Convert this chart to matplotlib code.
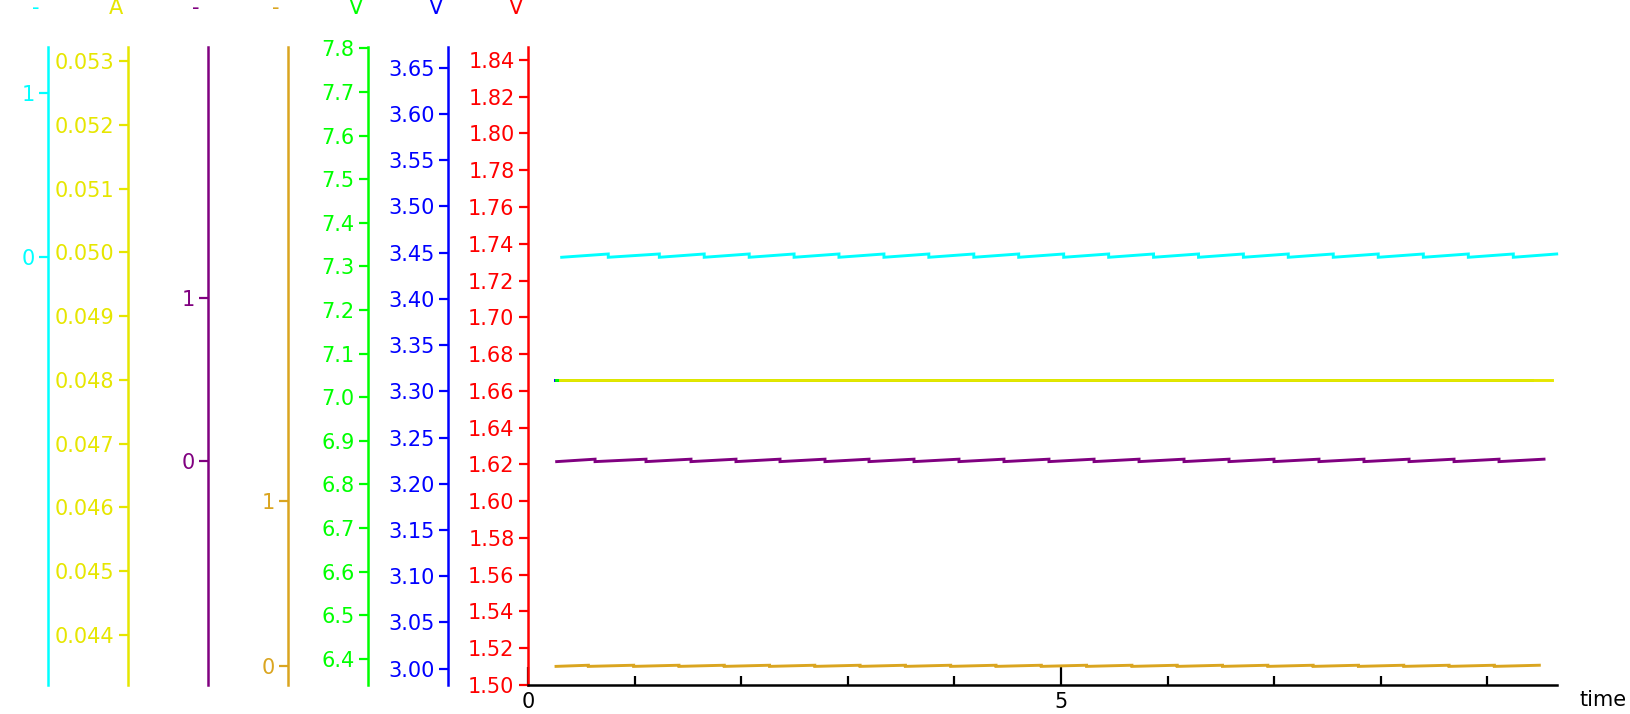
import matplotlib
matplotlib.use("Agg")
import matplotlib.pyplot as plt
from matplotlib.ticker import FixedLocator, FormatStrFormatter, NullFormatter

# ---------------- data ----------------
x_limits = (0.0, 9.65)
x_major_ticks = [0, 5]
x_minor_ticks = [1, 2, 3, 4, 6, 7, 8, 9]
x_label = "time"

# sawtooth series: start, jump times, end, low/high values
cyan_start, cyan_end = 0.316, 9.65
cyan_jumps = [0.753, 1.232, 1.653, 2.075, 2.496, 2.917, 3.339, 3.760, 4.182, 4.603,
              5.025, 5.447, 5.868, 6.290, 6.711, 7.132, 7.554, 7.976, 8.399, 8.821, 9.243]
cyan_low, cyan_high = 0.0, 0.02

purple_start, purple_end = 0.269, 9.531
purple_jumps = [0.629, 1.107, 1.529, 1.951, 2.364, 2.786, 3.199, 3.621, 4.043, 4.465,
                4.887, 5.310, 5.732, 6.154, 6.576, 6.998, 7.420, 7.842, 8.265, 8.687, 9.109]
purple_low, purple_high = -0.004, 0.011

orange_start, orange_end = 0.263, 9.487
orange_jumps = [0.566, 0.991, 1.416, 1.841, 2.266, 2.690, 3.115, 3.540, 3.965, 4.390,
                4.815, 5.240, 5.665, 6.090, 6.515, 6.940, 7.365, 7.790, 8.215, 8.640, 9.065]
orange_low, orange_high = -0.002, 0.005

# flat series
red_t = [0.27, 9.31]
red_v = [1.6658, 1.6658]
blue_t = [0.255, 9.30]
blue_v = [3.312, 3.312]
green_t = [0.265, 9.415]
green_v = [7.0398, 7.0398]
yellow_t = [0.30, 9.603]
yellow_v = [0.048, 0.048]

# axes: ticks and limits
red_ticks = [1.50, 1.52, 1.54, 1.56, 1.58, 1.60, 1.62, 1.64, 1.66, 1.68,
             1.70, 1.72, 1.74, 1.76, 1.78, 1.80, 1.82, 1.84]
blue_ticks = [3.00, 3.05, 3.10, 3.15, 3.20, 3.25, 3.30, 3.35, 3.40, 3.45,
              3.50, 3.55, 3.60, 3.65]
green_ticks = [6.4, 6.5, 6.6, 6.7, 6.8, 6.9, 7.0, 7.1, 7.2, 7.3, 7.4, 7.5, 7.6, 7.7, 7.8]
orange_ticks = [0, 1]
purple_ticks = [0, 1]
yellow_ticks = [0.044, 0.045, 0.046, 0.047, 0.048, 0.049, 0.050, 0.051, 0.052, 0.053]
cyan_ticks = [0, 1]

red_lim = (1.50, 1.8472)
blue_lim = (2.9824, 3.6727)
green_lim = (6.3397, 7.8037)
orange_lim = (-0.115, 3.76)
purple_lim = (-1.372, 2.537)
yellow_lim = (0.043216, 0.053224)
cyan_lim = (-2.598, 1.279)

RED, BLUE, GREEN = "#ff0000", "#0000ff", "#00ff00"
ORANGE, PURPLE, YELLOW, CYAN = "#daa520", "#800080", "#e6e600", "#00ffff"


def sawtooth(start, jumps, end, low, high):
    t = [start]
    v = [low]
    for j in jumps:
        t += [j, j]
        v += [high, low]
    t.append(end)
    v.append(high)
    return t, v


# ---------------- figure ----------------
W, H, DPI = 1631, 714, 100
fig = plt.figure(figsize=(W / DPI, H / DPI), dpi=DPI)
left_px, right_px, top_px, bottom_px = 528.0, 1556.7, 46.7, 685.0
host = fig.add_axes([left_px / W, 1 - bottom_px / H,
                     (right_px - left_px) / W, (bottom_px - top_px) / H])

FS = 15
LW = 2.1
spine_step_px = 80.0
px2pt = 72.0 / DPI

specs = [
    ("V", RED, red_lim, red_ticks, "%.2f", [(red_t, red_v)]),
    ("V", BLUE, blue_lim, blue_ticks, "%.2f", [(blue_t, blue_v)]),
    ("V", GREEN, green_lim, green_ticks, "%.1f", [(green_t, green_v)]),
    ("-", ORANGE, orange_lim, orange_ticks, "%d",
     [sawtooth(orange_start, orange_jumps, orange_end, orange_low, orange_high)]),
    ("-", PURPLE, purple_lim, purple_ticks, "%d",
     [sawtooth(purple_start, purple_jumps, purple_end, purple_low, purple_high)]),
    ("A", YELLOW, yellow_lim, yellow_ticks, "%.3f", [(yellow_t, yellow_v)]),
    ("-", CYAN, cyan_lim, cyan_ticks, "%d",
     [sawtooth(cyan_start, cyan_jumps, cyan_end, cyan_low, cyan_high)]),
]

host.set_xlim(*x_limits)
host.xaxis.set_major_locator(FixedLocator(x_major_ticks))
host.xaxis.set_minor_locator(FixedLocator(x_minor_ticks))
host.xaxis.set_minor_formatter(NullFormatter())
host.tick_params(axis="x", which="major", direction="in", length=13, width=1.6,
                 colors="black", labelsize=FS, pad=5)
host.tick_params(axis="x", which="minor", direction="in", length=6.5, width=1.6,
                 colors="black")
for s in ("top", "right"):
    host.spines[s].set_visible(False)
host.spines["bottom"].set_color("black")
host.spines["bottom"].set_linewidth(1.8)
host.annotate(x_label, xy=(1, 0), xycoords="axes fraction",
              xytext=(23.3 * px2pt, -15.5 * px2pt), textcoords="offset points",
              ha="left", va="center", fontsize=FS, color="black")

order_axes = []
for i, (lab, col, lim, ticks, fmt, lines) in enumerate(specs):
    if i == 0:
        ax = host
    else:
        ax = host.twinx()
        ax.patch.set_visible(False)
        for s in ("top", "right", "bottom"):
            ax.spines[s].set_visible(False)
        ax.yaxis.set_ticks_position("left")
        ax.yaxis.set_label_position("left")
        ax.spines["left"].set_position(("outward", i * spine_step_px * px2pt))
        ax.spines["left"].set_visible(True)
    ax.set_ylim(*lim)
    ax.yaxis.set_major_locator(FixedLocator(ticks))
    ax.yaxis.set_major_formatter(FormatStrFormatter(fmt))
    ax.spines["left"].set_color(col)
    ax.spines["left"].set_linewidth(1.8)
    ax.tick_params(axis="y", which="major", direction="out", length=6.5, width=1.6,
                   colors=col, labelsize=FS, pad=3.2)
    ax.annotate(lab, xy=(0, 1), xycoords="axes fraction",
                xytext=(-(i * spine_step_px + 12) * px2pt, 38.7 * px2pt),
                textcoords="offset points", ha="center", va="center",
                fontsize=FS, color=col)
    order_axes.append((ax, col, lines))

for ax, col, lines in order_axes:
    for t, v in lines:
        ax.plot(t, v, color=col, lw=LW, solid_joinstyle="miter", clip_on=False)

fig.savefig("out.png", dpi=DPI, facecolor="white")
